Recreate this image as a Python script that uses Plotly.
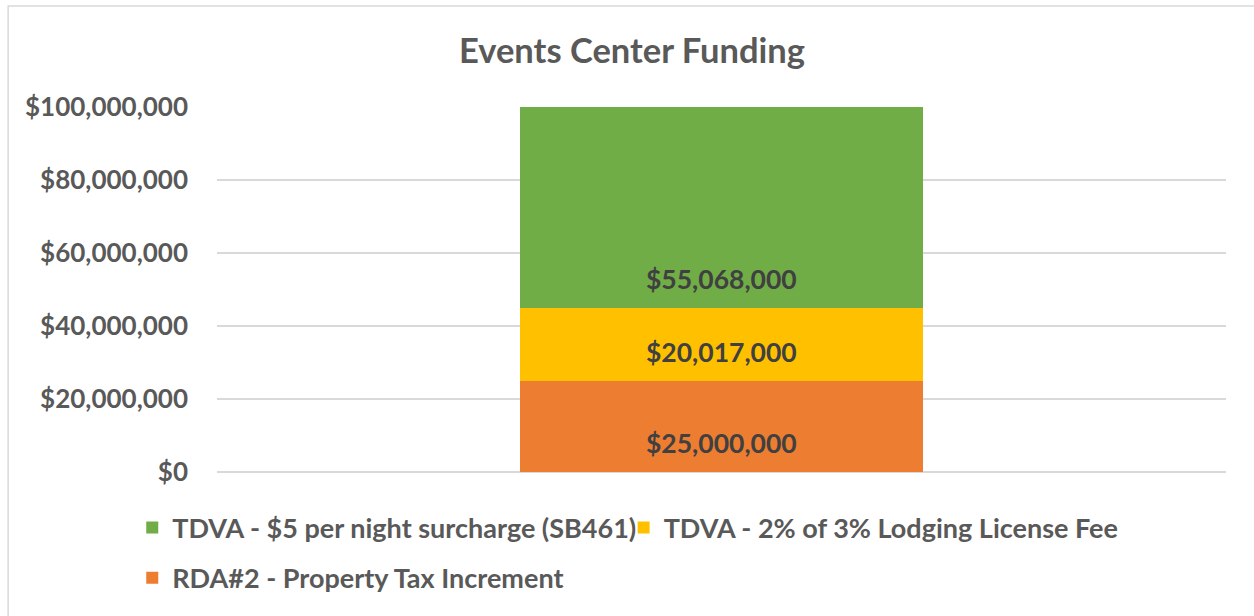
import plotly.graph_objects as go

categories = ["Events Center"]
series_names = [
    "RDA#2 - Property Tax Increment",
    "TDVA - 2% of 3% Lodging License Fee",
    "TDVA - $5 per night surcharge (SB461)",
]
series_values = [25000000, 20017000, 55068000]
series_colors = ["#ED7D31", "#FFC000", "#70AD47"]
series_legend = ["legend2", "legend3", "legend"]
y_tickvals = [0, 20000000, 40000000, 60000000, 80000000, 100000000]
y_ticktext = ["$0", "$20,000,000", "$40,000,000", "$60,000,000", "$80,000,000", "$100,000,000"]

FONT = "Lato"
GREY = "#595959"
LABEL = "#404040"

fig = go.Figure()
for name, val, col, lg in zip(series_names, series_values, series_colors, series_legend):
    fig.add_trace(go.Bar(
        x=categories, y=[val], name=name, marker_color=col,
        marker_line_width=0, width=0.4, legend=lg, hoverinfo="skip",
    ))

# data labels near the base of each segment
base = 0
for val in series_values:
    fig.add_annotation(
        x=categories[0], y=base, xref="x", yref="y",
        text="${:,.0f}".format(val), showarrow=False,
        yshift=29, yanchor="middle",
        font=dict(family=FONT, size=26.5, color=LABEL, weight="bold"),
    )
    base += val

legend_font = dict(family=FONT, size=27, color=GREY, weight="bold")

fig.update_layout(
    width=1254, height=616,
    margin=dict(l=217, r=28, t=107, b=144),
    paper_bgcolor="white", plot_bgcolor="white",
    barmode="stack", bargap=0.6,
    showlegend=True,
    title=dict(
        text="Events Center Funding", x=0.504, xanchor="center",
        y=0.918, yanchor="middle",
        font=dict(family=FONT, size=34.5, color=GREY, weight="bold"),
    ),
    xaxis=dict(showticklabels=False, showgrid=False, showline=False, zeroline=False, ticks=""),
    yaxis=dict(
        range=[0, 100000000], tickmode="array", tickvals=y_tickvals, ticktext=y_ticktext,
        showgrid=True, gridcolor="#D9D9D9", gridwidth=1.5,
        zeroline=True, zerolinecolor="#D9D9D9", zerolinewidth=1.5,
        showline=False, ticks="", ticklabelstandoff=28,
        tickfont=dict(family=FONT, size=26, color=GREY, weight="bold"),
    ),
    legend=dict(
        orientation="h", x=-0.084, xanchor="left", y=-0.0865, yanchor="top",
        font=legend_font, bgcolor="rgba(0,0,0,0)",
    ),
    legend3=dict(
        orientation="h", x=0.403, xanchor="left", y=-0.0865, yanchor="top",
        font=legend_font, bgcolor="rgba(0,0,0,0)",
    ),
    legend2=dict(
        orientation="h", x=-0.084, xanchor="left", y=-0.2235, yanchor="top",
        font=legend_font, bgcolor="rgba(0,0,0,0)",
    ),
    shapes=[dict(
        type="rect", xref="paper", yref="paper",
        x0=-0.207, x1=1.04, y0=-0.42, y1=1.277,
        line=dict(color="#D9D9D9", width=1.5), fillcolor="rgba(0,0,0,0)",
        layer="below",
    )],
)

fig.write_html("out.html")
